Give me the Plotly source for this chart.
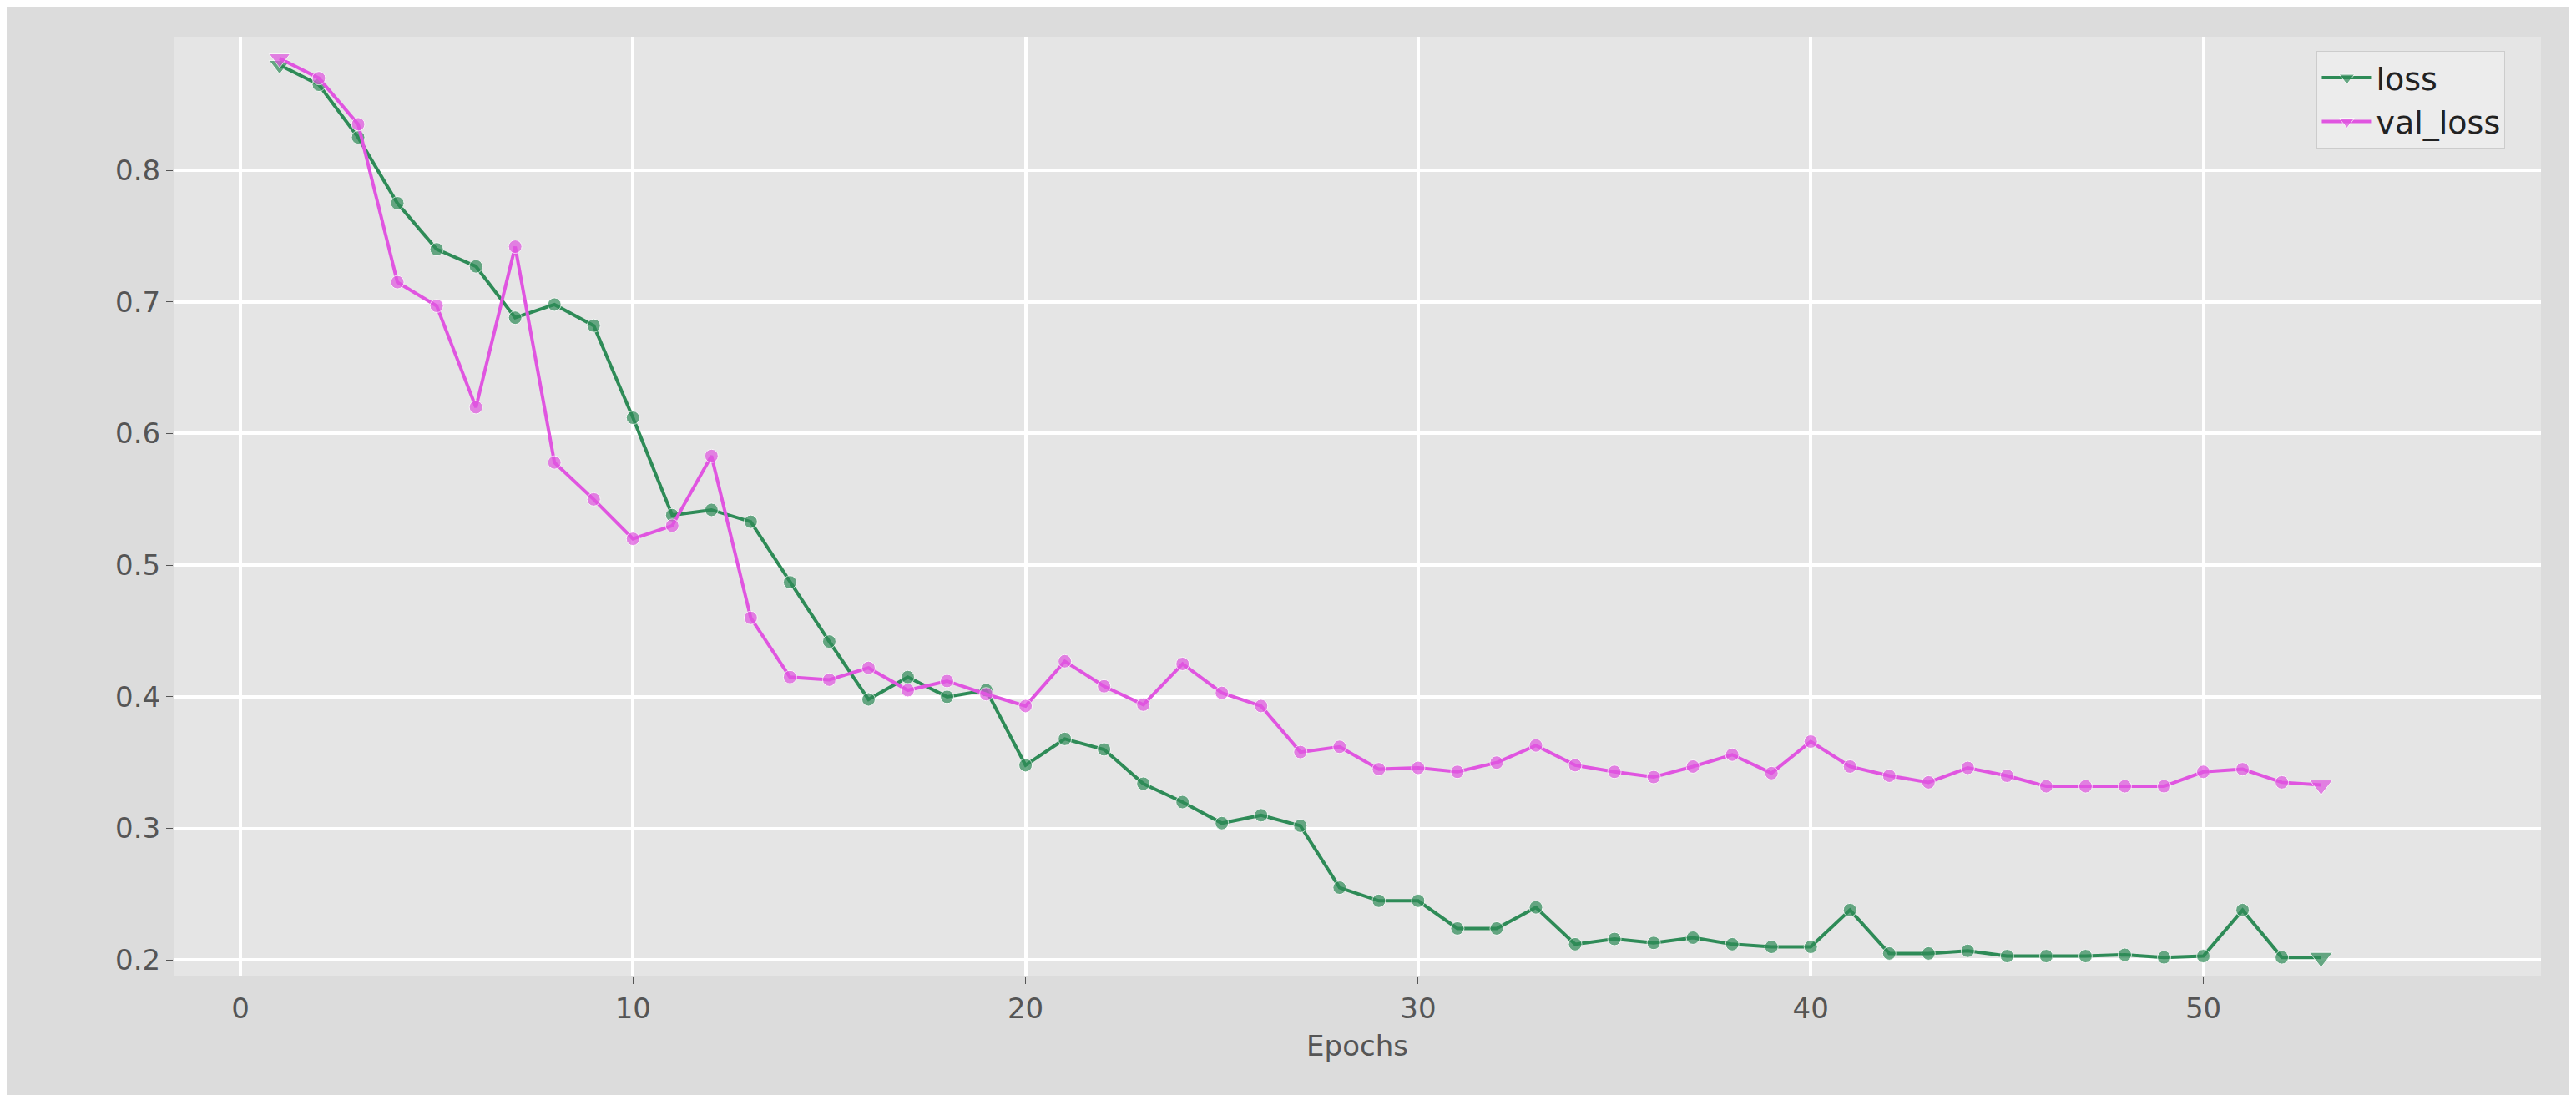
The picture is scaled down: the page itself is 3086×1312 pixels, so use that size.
import plotly.graph_objects as go

epochs = list(range(1, 54))
loss = [0.88, 0.865, 0.825, 0.775, 0.74, 0.727, 0.688, 0.698, 0.682, 0.612,
        0.538, 0.542, 0.533, 0.487, 0.442, 0.398, 0.415, 0.400, 0.405, 0.348,
        0.368, 0.360, 0.334, 0.320, 0.304, 0.310, 0.302, 0.255, 0.245, 0.245,
        0.224, 0.224, 0.240, 0.212, 0.216, 0.213, 0.217, 0.212, 0.210, 0.210,
        0.238, 0.205, 0.205, 0.207, 0.203, 0.203, 0.203, 0.204, 0.202, 0.203,
        0.238, 0.202, 0.202]
val_loss = [0.885, 0.87, 0.835, 0.715, 0.697, 0.62, 0.742, 0.578, 0.55, 0.52,
            0.53, 0.583, 0.46, 0.415, 0.413, 0.422, 0.405, 0.412, 0.402, 0.393,
            0.427, 0.408, 0.394, 0.425, 0.403, 0.393, 0.358, 0.362, 0.345, 0.346,
            0.343, 0.350, 0.363, 0.348, 0.343, 0.339, 0.347, 0.356, 0.342, 0.366,
            0.347, 0.340, 0.335, 0.346, 0.340, 0.332, 0.332, 0.332, 0.332, 0.343,
            0.345, 0.335, 0.333]

symbols = ['triangle-down'] + ['circle'] * 51 + ['triangle-down']
sizes = [22] + [16] * 51 + [24]

fig = go.Figure()
fig.add_trace(go.Scatter(x=epochs, y=loss, name='loss', mode='lines+markers',
                         line=dict(color='#2e8b57', width=4),
                         marker=dict(color='#2e8b57', symbol=symbols, size=sizes)))
fig.add_trace(go.Scatter(x=epochs, y=val_loss, name='val_loss', mode='lines+markers',
                         line=dict(color='#e055e0', width=4),
                         marker=dict(color='#e055e0', symbol=symbols, size=sizes)))

axis_font = dict(family='DejaVu Sans', size=34, color='#555555')
fig.update_layout(
    width=3086, height=1312,
    paper_bgcolor='#dcdcdc', plot_bgcolor='#e5e5e5',
    margin=dict(l=200, r=50, t=36, b=150),
    showlegend=True,
    legend=dict(x=0.985, y=0.985, xanchor='right', yanchor='top',
                bgcolor='#ececec', bordercolor='#cccccc', borderwidth=1,
                itemwidth=60,
                font=dict(family='DejaVu Sans', size=38, color='#222222')),
    xaxis=dict(range=[-1.7, 58.6], tickvals=[0, 10, 20, 30, 40, 50],
               gridcolor='white', gridwidth=4, zeroline=False,
               ticks='outside', ticklen=8, tickcolor='#555555', tickfont=axis_font,
               title=dict(text='Epochs', font=axis_font, standoff=14)),
    yaxis=dict(range=[0.1875, 0.9015], tickvals=[0.2, 0.3, 0.4, 0.5, 0.6, 0.7, 0.8],
               tickformat='.1f', gridcolor='white', gridwidth=4, zeroline=False,
               ticks='outside', ticklen=8, tickcolor='#555555', tickfont=axis_font),
)

fig.write_html("out.html")
